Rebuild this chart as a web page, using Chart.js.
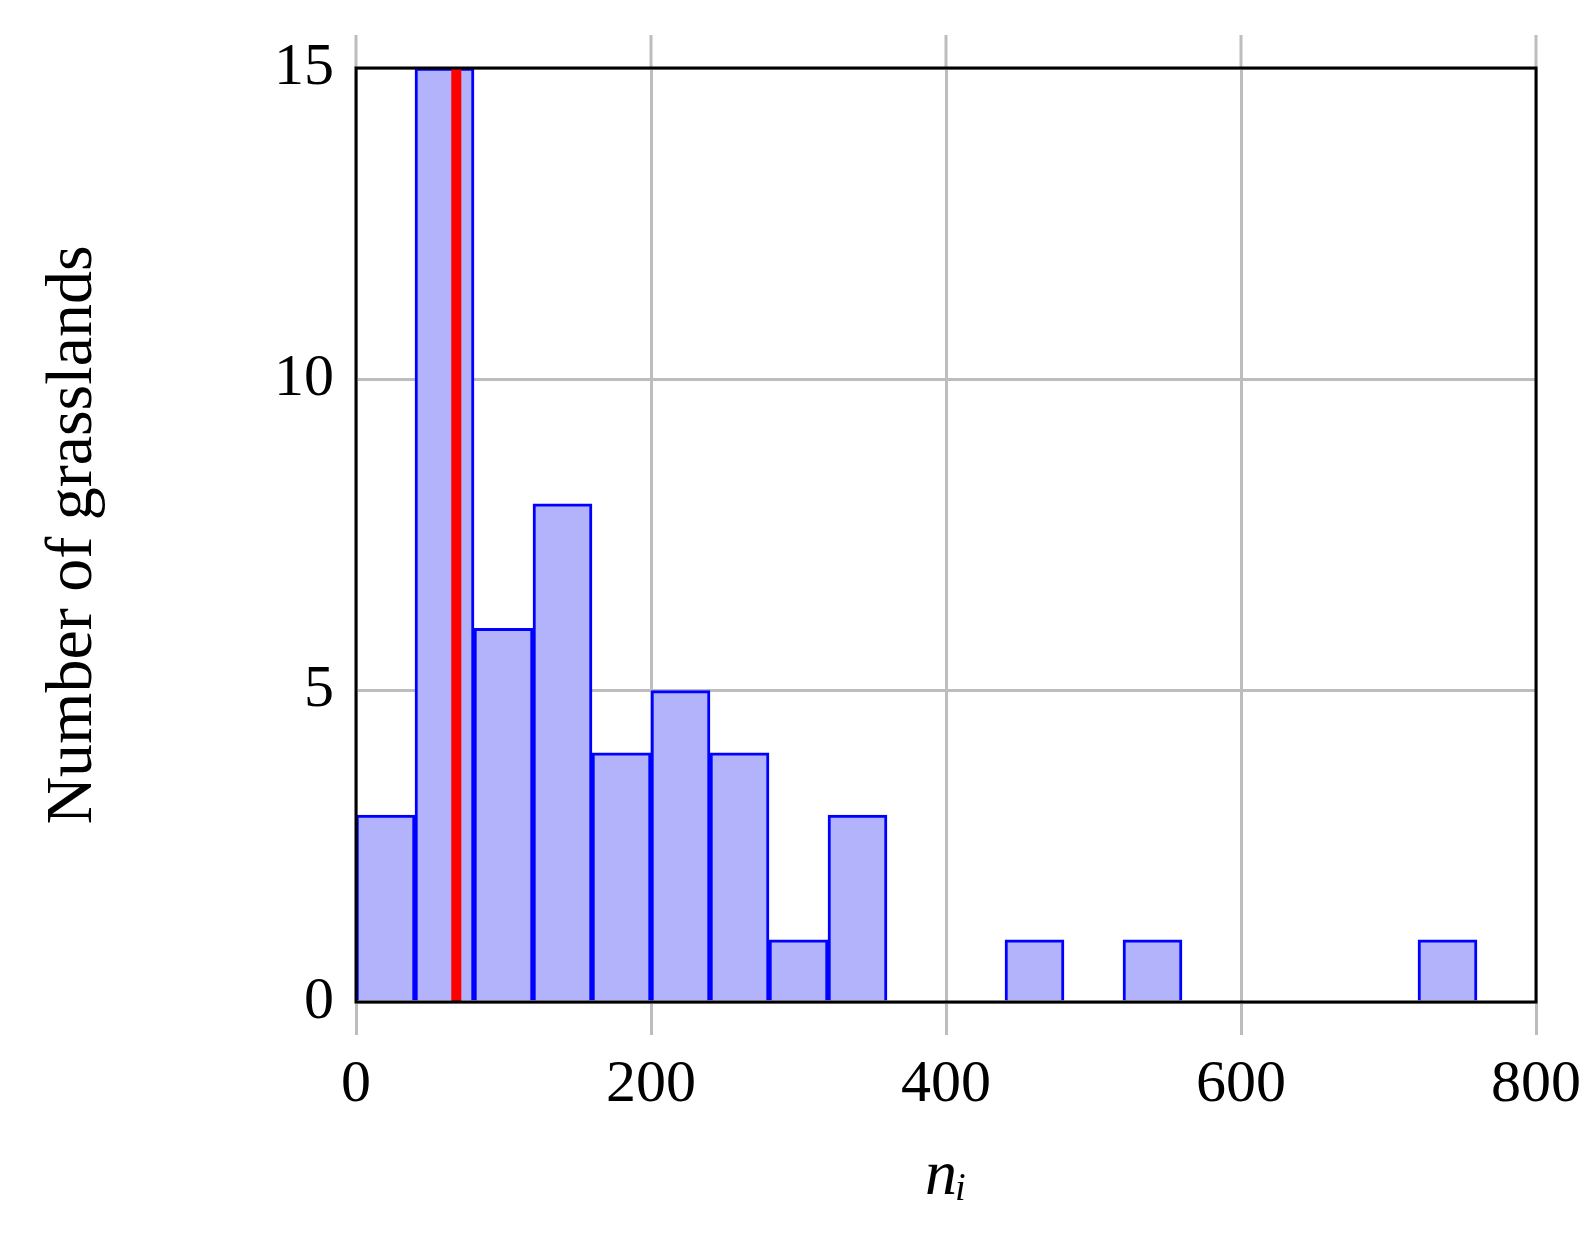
<!DOCTYPE html>
<html lang="en">
<head>
  <meta charset="UTF-8" />
  <title>Number of grasslands histogram</title>
  <script src="https://cdn.jsdelivr.net/npm/chart.js"></script>
  <style>
    body { margin: 0; background: #fff; }
    #wrap { width: 1595px; height: 1250px; }
  </style>
</head>
<body>
  <div id="wrap"><canvas id="grafico"></canvas></div>
  <script>
    // bin centres (width 40) and counts
    var binCentres = [20, 60, 100, 140, 180, 220, 260, 300, 340, 380, 420, 460, 500, 540, 580, 620, 660, 700, 740, 780];
    var counts = [3, 15, 6, 8, 4, 5, 4, 1, 3, 0, 0, 1, 0, 1, 0, 0, 0, 0, 1, 0];
    var redLineX = 68;
    var xTicks = [0, 200, 400, 600, 800];
    var yTicks = [0, 5, 10, 15];

    var barData = [];
    for (var i = 0; i < binCentres.length; i++) {
      barData.push({ x: binCentres[i], y: counts[i] });
    }

    var font = "'Liberation Serif', 'DejaVu Serif', serif";

    // frame + grid ticks above the plot
    var moldura = {
      id: 'moldura',
      beforeDatasetsDraw: function(chart) {
        var a = chart.chartArea, ctx = chart.ctx, sx = chart.scales.x;
        ctx.save();
        ctx.strokeStyle = '#bdbdbd';
        ctx.lineWidth = 3;
        xTicks.forEach(function(v) {
          var px = sx.getPixelForValue(v);
          ctx.beginPath(); ctx.moveTo(px, a.top - 33); ctx.lineTo(px, a.top); ctx.stroke();
        });
        ctx.restore();
      },
      afterDatasetsDraw: function(chart) {
        var a = chart.chartArea, ctx = chart.ctx;
        ctx.save();
        ctx.strokeStyle = '#000';
        ctx.lineWidth = 3;
        ctx.strokeRect(a.left, a.top, a.right - a.left, a.bottom - a.top);
        ctx.restore();
      }
    };

    new Chart(document.getElementById('grafico'), {
      type: 'bar',
      plugins: [moldura],
      data: {
        datasets: [{
          type: 'line',
          data: [{ x: redLineX, y: 0 }, { x: redLineX, y: 15 }],
          borderColor: '#ff0000',
          borderWidth: 10,
          pointRadius: 0,
          order: 0
        }, {
          data: barData,
          backgroundColor: '#b3b3fb',
          borderColor: '#0000ff',
          borderWidth: 3,
          barPercentage: 1,
          categoryPercentage: 1,
          order: 1
        }]
      },
      options: {
        responsive: true,
        maintainAspectRatio: false,
        animation: false,
        layout: { padding: { left: 30, right: 45, top: 68, bottom: 30 } },
        plugins: { legend: { display: false }, tooltip: { enabled: false } },
        scales: {
          x: {
            type: 'linear',
            offset: false,
            min: 0, max: 800,
            afterBuildTicks: function(s) { s.ticks = xTicks.map(function(v) { return { value: v }; }); },
            afterFit: function(s) { s.height = 218; },
            grid: { color: '#bdbdbd', lineWidth: 3, tickLength: 33, offset: false },
            border: { display: false },
            ticks: { font: { family: font, size: 60 }, color: '#000', padding: 14 },
            title: { display: true, text: 'n\u1D62', font: { family: font, size: 64, style: 'italic' }, color: '#000', padding: { top: 0 } }
          },
          y: {
            min: 0, max: 15,
            afterBuildTicks: function(s) { s.ticks = yTicks.map(function(v) { return { value: v }; }); },
            afterFit: function(s) { s.width = 326; },
            grid: { color: '#bdbdbd', lineWidth: 3, tickLength: 0 },
            border: { display: false },
            ticks: { font: { family: font, size: 60 }, color: '#000', padding: 22 },
            title: { display: true, text: 'Number of grasslands', font: { family: font, size: 66 }, color: '#000', padding: { bottom: 0 } }
          }
        }
      }
    });
  </script>
</body>
</html>
